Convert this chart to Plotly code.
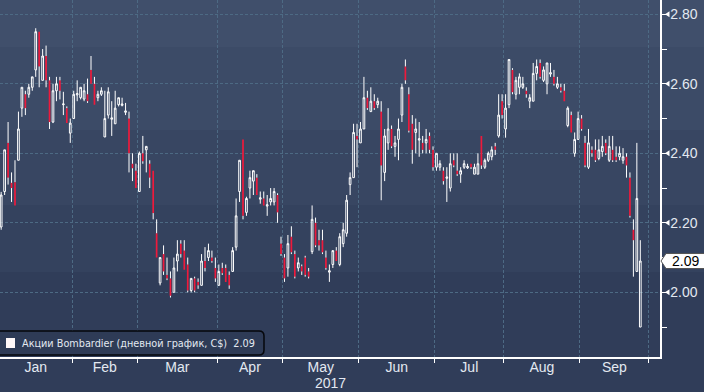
import plotly.graph_objects as go

# ---------------- data (trading-day index 0 = 3 Jan 2017) ----------------
opens = [2.188, 2.29, 2.43, 2.315, 2.317, 2.38, 2.53, 2.57, 2.57, 2.59,
         2.64, 2.75, 2.61, 2.68, 2.61, 2.49, 2.58, 2.61, 2.54, 2.53,
         2.458, 2.50, 2.568, 2.56, 2.556, 2.57, 2.64, 2.60, 2.56, 2.57,
         2.447, 2.51, 2.498, 2.485, 2.54, 2.538, 2.518, 2.50, 2.37, 2.35,
         2.29, 2.40, 2.41, 2.37, 2.35, 2.17, 2.027, 2.11, 2.05, 2.04,
         2.00, 2.09, 2.14, 2.12, 2.08, 2.005, 2.04, 2.03, 2.02, 2.09,
         2.10, 2.10, 2.07, 2.02, 2.07, 2.07, 2.05, 2.06, 2.13, 2.29,
         2.44, 2.23, 2.30, 2.32, 2.33, 2.268, 2.27, 2.248, 2.26, 2.26,
         2.28, 2.14, 2.10, 2.07, 2.16, 2.11, 2.07, 2.075, 2.10, 2.06,
         2.117, 2.20, 2.15, 2.15, 2.10, 2.058, 2.08, 2.12, 2.08, 2.14,
         2.17, 2.31, 2.33, 2.45, 2.43, 2.47, 2.56, 2.52, 2.55, 2.54,
         2.52, 2.345, 2.43, 2.47, 2.42, 2.44, 2.51, 2.65, 2.57, 2.485,
         2.46, 2.438, 2.43, 2.43, 2.45, 2.41, 2.36, 2.36, 2.35, 2.328,
         2.30, 2.38, 2.35, 2.34, 2.36, 2.358, 2.37, 2.34, 2.34, 2.45,
         2.36, 2.38, 2.39, 2.42, 2.45, 2.55, 2.47, 2.54, 2.64, 2.57,
         2.59, 2.59, 2.58, 2.55, 2.55, 2.63, 2.66, 2.61, 2.60, 2.628,
         2.62, 2.59, 2.59, 2.58, 2.48, 2.51, 2.40, 2.44, 2.50, 2.43,
         2.36, 2.41, 2.41, 2.385, 2.405, 2.43, 2.38, 2.41, 2.39, 2.39,
         2.38, 2.39, 2.33, 2.18, 2.06, 1.90]
highs = [2.289, 2.41, 2.49, 2.345, 2.38, 2.52, 2.59, 2.58, 2.60, 2.62,
         2.76, 2.75, 2.70, 2.71, 2.62, 2.60, 2.62, 2.62, 2.577, 2.535,
         2.50, 2.58, 2.61, 2.59, 2.60, 2.615, 2.68, 2.62, 2.58, 2.59,
         2.58, 2.59, 2.55, 2.58, 2.56, 2.56, 2.545, 2.52, 2.40, 2.37,
         2.405, 2.45, 2.42, 2.38, 2.35, 2.21, 2.10, 2.135, 2.10, 2.06,
         2.10, 2.15, 2.15, 2.15, 2.10, 2.04, 2.045, 2.04, 2.11, 2.13,
         2.14, 2.12, 2.10, 2.08, 2.085, 2.08, 2.06, 2.13, 2.27, 2.38,
         2.44, 2.275, 2.35, 2.35, 2.34, 2.29, 2.29, 2.28, 2.30, 2.30,
         2.285, 2.16, 2.11, 2.165, 2.19, 2.12, 2.10, 2.08, 2.105, 2.07,
         2.25, 2.215, 2.18, 2.18, 2.12, 2.08, 2.12, 2.13, 2.17, 2.20,
         2.28, 2.345, 2.485, 2.485, 2.49, 2.62, 2.58, 2.59, 2.57, 2.56,
         2.55, 2.47, 2.53, 2.48, 2.45, 2.50, 2.60, 2.67, 2.59, 2.51,
         2.50, 2.49, 2.45, 2.47, 2.46, 2.42, 2.40, 2.38, 2.36, 2.36,
         2.40, 2.40, 2.40, 2.36, 2.38, 2.37, 2.37, 2.37, 2.40, 2.45,
         2.385, 2.405, 2.42, 2.43, 2.57, 2.57, 2.57, 2.67, 2.645, 2.62,
         2.63, 2.62, 2.59, 2.57, 2.66, 2.67, 2.67, 2.65, 2.66, 2.66,
         2.64, 2.62, 2.60, 2.60, 2.535, 2.52, 2.46, 2.52, 2.51, 2.45,
         2.47, 2.42, 2.44, 2.44, 2.45, 2.44, 2.45, 2.45, 2.42, 2.42,
         2.415, 2.40, 2.345, 2.21, 2.43, 2.15]
lows = [2.18, 2.28, 2.31, 2.26, 2.25, 2.38, 2.505, 2.51, 2.56, 2.58,
        2.62, 2.59, 2.61, 2.59, 2.47, 2.487, 2.55, 2.555, 2.51, 2.487,
        2.43, 2.50, 2.55, 2.555, 2.55, 2.545, 2.60, 2.54, 2.55, 2.565,
        2.447, 2.50, 2.45, 2.485, 2.535, 2.535, 2.51, 2.345, 2.32, 2.30,
        2.29, 2.37, 2.345, 2.30, 2.21, 2.10, 2.02, 2.05, 2.035, 1.985,
        2.00, 2.06, 2.10, 2.065, 2.00, 2.00, 2.00, 2.01, 2.02, 2.06,
        2.09, 2.085, 2.03, 2.02, 2.05, 2.03, 2.01, 2.06, 2.12, 2.26,
        2.21, 2.22, 2.27, 2.28, 2.28, 2.255, 2.25, 2.22, 2.25, 2.25,
        2.20, 2.105, 2.03, 2.045, 2.11, 2.04, 2.06, 2.05, 2.045, 2.04,
        2.11, 2.13, 2.12, 2.11, 2.065, 2.03, 2.07, 2.09, 2.075, 2.13,
        2.16, 2.28, 2.33, 2.36, 2.43, 2.47, 2.525, 2.52, 2.525, 2.53,
        2.265, 2.32, 2.41, 2.415, 2.39, 2.38, 2.49, 2.60, 2.46, 2.37,
        2.40, 2.39, 2.40, 2.40, 2.40, 2.35, 2.35, 2.35, 2.31, 2.26,
        2.29, 2.36, 2.335, 2.315, 2.355, 2.355, 2.355, 2.34, 2.34, 2.355,
        2.355, 2.375, 2.38, 2.395, 2.445, 2.50, 2.445, 2.53, 2.57, 2.555,
        2.57, 2.585, 2.56, 2.53, 2.55, 2.61, 2.615, 2.605, 2.57, 2.62,
        2.595, 2.585, 2.575, 2.55, 2.475, 2.46, 2.39, 2.44, 2.465, 2.36,
        2.355, 2.39, 2.375, 2.38, 2.39, 2.395, 2.375, 2.375, 2.375, 2.38,
        2.37, 2.33, 2.215, 2.045, 2.06, 1.90]
closes = [2.28, 2.41, 2.33, 2.30, 2.25, 2.47, 2.59, 2.53, 2.59, 2.62,
          2.75, 2.65, 2.68, 2.61, 2.49, 2.58, 2.60, 2.58, 2.542, 2.487,
          2.487, 2.57, 2.572, 2.59, 2.58, 2.55, 2.60, 2.54, 2.57, 2.58,
          2.50, 2.577, 2.502, 2.53, 2.56, 2.542, 2.522, 2.40, 2.357, 2.30,
          2.40, 2.377, 2.42, 2.33, 2.228, 2.10, 2.10, 2.06, 2.04, 1.99,
          2.07, 2.11, 2.11, 2.065, 2.005, 2.04, 2.005, 2.02, 2.09, 2.07,
          2.12, 2.09, 2.04, 2.06, 2.055, 2.03, 2.02, 2.12, 2.22, 2.38,
          2.22, 2.27, 2.33, 2.35, 2.28, 2.272, 2.25, 2.252, 2.27, 2.29,
          2.23, 2.11, 2.04, 2.14, 2.115, 2.045, 2.085, 2.06, 2.05, 2.045,
          2.21, 2.135, 2.135, 2.115, 2.07, 2.062, 2.12, 2.09, 2.16, 2.18,
          2.265, 2.33, 2.46, 2.44, 2.47, 2.56, 2.53, 2.55, 2.53, 2.55,
          2.365, 2.45, 2.47, 2.42, 2.43, 2.47, 2.59, 2.61, 2.465, 2.41,
          2.47, 2.442, 2.41, 2.44, 2.41, 2.36, 2.40, 2.37, 2.32, 2.332,
          2.37, 2.365, 2.34, 2.35, 2.37, 2.362, 2.36, 2.36, 2.37, 2.365,
          2.38, 2.40, 2.41, 2.41, 2.51, 2.51, 2.53, 2.67, 2.576, 2.61,
          2.62, 2.60, 2.57, 2.56, 2.63, 2.65, 2.62, 2.64, 2.66, 2.632,
          2.60, 2.60, 2.58, 2.55, 2.53, 2.46, 2.44, 2.50, 2.47, 2.365,
          2.43, 2.40, 2.38, 2.41, 2.42, 2.40, 2.42, 2.38, 2.38, 2.40,
          2.39, 2.365, 2.22, 2.15, 2.27, 2.09]

month_names = ["Jan", "Feb", "Mar", "Apr", "May", "Jun", "Jul", "Aug", "Sep"]
month_days = [21, 19, 23, 19, 22, 22, 20, 22, 20]   # trading days per month
y_ticks = [2.0, 2.2, 2.4, 2.6, 2.8]
y_minor = [1.9, 2.1, 2.3, 2.5, 2.7]
last_price = 2.09
year_label = "2017"
legend_label = "Акции Bombardier (дневной график, C$)  2.09"

# ---------------- derived ----------------
idx = list(range(len(opens)))
starts = []
s = 0
for d in month_days:
    starts.append(s)
    s += d
bounds = [st - 0.5 for st in starts[1:]] + [s - 0.5]
centers = [st + d / 2 - 0.5 for st, d in zip(starts, month_days)]

WHITE = "#ffffff"
RED = "#ee1a3c"
GRID = "#4d6a84"
TXT = "#e3e9f1"
FONT = "Liberation Sans, Arial, sans-serif"

fig = go.Figure()

# wicks for down candles (white)
wx, wy = [], []
for i, (o, h, l, c) in enumerate(zip(opens, highs, lows, closes)):
    if c < o:
        top, bot = max(o, c), min(o, c)
        if h > top:
            wx += [i, i, None]; wy += [h, top, None]
        if l < bot:
            wx += [i, i, None]; wy += [bot, l, None]
fig.add_trace(go.Scatter(x=wx, y=wy, mode="lines",
                         line=dict(color=WHITE, width=1),
                         hoverinfo="skip", showlegend=False))

fig.add_trace(go.Candlestick(
    x=idx, open=opens, high=highs, low=lows, close=closes,
    increasing=dict(line=dict(color=WHITE, width=1), fillcolor="rgba(0,0,0,0)"),
    decreasing=dict(line=dict(color=RED, width=0), fillcolor=RED),
    showlegend=False, hoverinfo="skip"))

# ---------------- background bands ----------------
H = 357.0  # plot height px
W = 660.0  # plot width px
def py(px):
    return (H - px) / H

bands = [(-2, 47, "#404f6b"), (47, 130, "#3c4b67"), (130, 205, "#384662"),
         (205, 272, "#34425e"), (272, 400, "#303d59")]
shapes = []
for a, b, col in bands:
    shapes.append(dict(type="rect", xref="paper", yref="paper",
                       x0=-0.02, x1=1.1, y0=py(b), y1=py(a),
                       fillcolor=col, line=dict(width=0), layer="below"))

# right-axis triangle markers
dy = 3.0 / 347.5
for v in y_ticks:
    shapes.append(dict(type="path", xref="paper", yref="y",
                       path=f"M {665/W},{v} L {669.5/W},{v+dy} L {669.5/W},{v-dy} Z",
                       fillcolor=WHITE, line=dict(width=0)))

# last price tag
hh = 7.5 / 347.5
p = last_price
shapes.append(dict(type="path", xref="paper", yref="y",
                   path=(f"M {661/W},{p} L {666/W},{p+hh} L {720/W},{p+hh} "
                         f"L {720/W},{p-hh} L {666/W},{p-hh} Z"),
                   fillcolor=WHITE, line=dict(color="#555555", width=1)))

# legend box (rounded right corners)
x0, x1 = -10 / W, 264 / W
yt, yb = py(331), py(355)
rx, ry = 5 / W, 5 / H
shapes.append(dict(type="path", xref="paper", yref="paper",
                   path=(f"M {x0},{yt} L {x1-rx},{yt} Q {x1},{yt} {x1},{yt-ry} "
                         f"L {x1},{yb+ry} Q {x1},{yb} {x1-rx},{yb} L {x0},{yb} Z"),
                   fillcolor="#2e3b56", line=dict(color="#05070b", width=1.5)))
shapes.append(dict(type="rect", xref="paper", yref="paper",
                   x0=6 / W, x1=15 / W, y0=py(348), y1=py(338),
                   fillcolor="#fff8f8", line=dict(width=0)))

annotations = [
    dict(x=670 / W, y=p, xref="paper", yref="y", text=f"{p:.2f}",
         showarrow=False, xanchor="left", yanchor="middle",
         font=dict(family=FONT, size=14, color="#000000")),
    dict(x=20 / W, y=py(343), xref="paper", yref="paper", text=legend_label,
         showarrow=False, xanchor="left", yanchor="middle",
         font=dict(family="DejaVu Sans, sans-serif", size=9.7, color=TXT)),
    dict(x=0.5, y=py(383), xref="paper", yref="paper", text=year_label,
         showarrow=False, xanchor="center", yanchor="middle",
         font=dict(family=FONT, size=14, color=TXT)),
]

fig.update_layout(
    width=704, height=392,
    margin=dict(l=0, r=44, t=0, b=35, autoexpand=False),
    paper_bgcolor="#303d59", plot_bgcolor="rgba(0,0,0,0)",
    shapes=shapes, annotations=annotations,
    showlegend=False, hovermode=False,
    font=dict(family=FONT, size=14, color=TXT),
)
fig.update_xaxes(
    range=[-0.34, 190.7], rangeslider=dict(visible=False),
    tickmode="array", tickvals=centers, ticktext=month_names,
    ticks="", showgrid=False, zeroline=False, automargin=False,
    showline=True, linecolor=WHITE, linewidth=1.5,
    tickfont=dict(family=FONT, size=14, color=TXT),
    ticklabelstandoff=-3,
    minor=dict(tickmode="array", tickvals=bounds, ticks="outside", ticklen=4,
               tickcolor=WHITE, tickwidth=1, showgrid=True, gridcolor=GRID,
               griddash="3px,2px", gridwidth=1),
)
fig.update_yaxes(
    range=[1.8138, 2.8412], side="right", automargin=False,
    tickmode="array", tickvals=y_ticks, ticktext=[f"{v:.2f}" for v in y_ticks],
    ticks="outside", ticklen=6, tickcolor=WHITE, tickwidth=1,
    showgrid=True, gridcolor=GRID, griddash="3px,2px", gridwidth=1,
    zeroline=False, showline=True, linecolor=WHITE, linewidth=1.5,
    tickfont=dict(family=FONT, size=14, color=TXT),
    minor=dict(tickmode="array", tickvals=y_minor, ticks="outside", ticklen=5,
               tickcolor=WHITE, tickwidth=1, showgrid=False),
)

fig.write_html("out.html",
               config={"displayModeBar": False, "staticPlot": True},
               post_script="document.body.style.margin='0px';document.body.style.overflow='hidden';")
